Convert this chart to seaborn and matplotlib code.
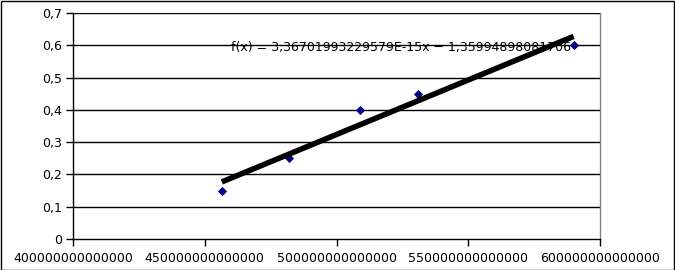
import matplotlib
matplotlib.use("Agg")
import matplotlib.pyplot as plt
import matplotlib.ticker as mticker
from matplotlib.patches import Rectangle
import seaborn as sns
import pandas as pd

# Data
freq = [4.565e14, 4.82e14, 5.09e14, 5.31e14, 5.90e14]
value = [0.15, 0.25, 0.40, 0.45, 0.60]
equation = "f(x) = 3,36701993229579E-15x \u2212 1,35994898081706"
x_ticks = [4.0e14, 4.5e14, 5.0e14, 5.5e14, 6.0e14]
y_ticks = [0, 0.1, 0.2, 0.3, 0.4, 0.5, 0.6, 0.7]

SCALE = 1e14  # fit in scaled units to keep the regression numerically stable
df = pd.DataFrame({"freq_s": [f / SCALE for f in freq], "value": value})

sns.set_theme(style="white")
plt.rcParams['font.family'] = ['DejaVu Sans']

W, H = 675, 270
fig = plt.figure(figsize=(6.75, 2.7), dpi=100)
ax = fig.add_axes([73 / W, (H - 239) / H, (600 - 73) / W, (239 - 13) / H])

sns.regplot(data=df, x="freq_s", y="value", ax=ax, ci=None, truncate=True,
            marker="D",
            scatter_kws=dict(s=22, color="#000080", edgecolor="#000080",
                             linewidths=0, alpha=1, zorder=3),
            line_kws=dict(color="black", lw=4, solid_capstyle="butt", zorder=4))

ax.set_xlim(x_ticks[0] / SCALE, x_ticks[-1] / SCALE)
ax.set_ylim(0, 0.7)
ax.set_xticks([t / SCALE for t in x_ticks])
ax.set_yticks(y_ticks)
ax.xaxis.set_major_formatter(mticker.FuncFormatter(lambda v, p: f"{int(round(v * SCALE))}"))
ax.yaxis.set_major_formatter(mticker.FuncFormatter(
    lambda v, p: "0" if abs(v) < 1e-9 else f"{v:.1f}".replace(".", ",")))
ax.set_xlabel("")
ax.set_ylabel("")

for yv in y_ticks[1:]:
    ax.axhline(yv, color="black", lw=1, zorder=1)

for side in ["left", "bottom"]:
    ax.spines[side].set_color("black")
    ax.spines[side].set_linewidth(1)
ax.spines["top"].set_visible(False)
ax.spines["right"].set_color("#808080")
ax.spines["right"].set_linewidth(1)

ax.tick_params(axis="both", which="major", direction="out", length=5, width=1,
               color="black", labelsize=9, labelcolor="black",
               bottom=True, left=True, pad=3)
ax.tick_params(axis="x", pad=4)

ax.text(231 / W, 1 - 48 / H, equation, transform=fig.transFigure,
        fontsize=9, color="black", ha="left", va="center", zorder=5)

fig.patches.append(Rectangle((0.5 / W, 0.5 / H), 1 - 1.5 / W, 1 - 1.5 / H,
                             transform=fig.transFigure, fill=False,
                             edgecolor="black", lw=1))

fig.savefig("out.png", dpi=100, facecolor="white")
